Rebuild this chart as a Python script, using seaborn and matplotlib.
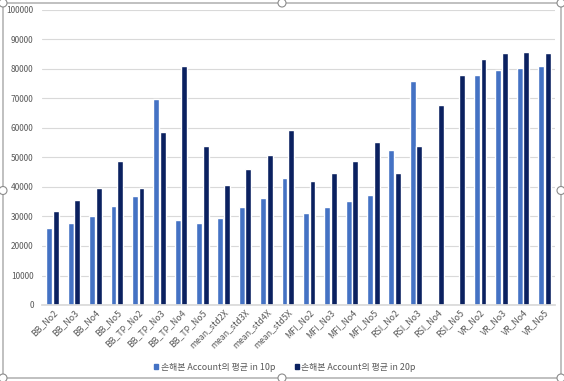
import matplotlib
matplotlib.use("Agg")
import matplotlib.pyplot as plt
import numpy as np
import pandas as pd
import seaborn as sns
from matplotlib.patches import FancyBboxPatch, Circle

categories = [
    "BB_No2", "BB_No3", "BB_No4", "BB_No5",
    "BB_TP_No2", "BB_TP_No3", "BB_TP_No4", "BB_TP_No5",
    "mean_std2X", "mean_std3X", "mean_std4X", "mean_std5X",
    "MFI_No2", "MFI_No3", "MFI_No4", "MFI_No5",
    "RSI_No2", "RSI_No3", "RSI_No4", "RSI_No5",
    "VR_No2", "VR_No3", "VR_No4", "VR_No5",
]
loss_10p = [
    26000, 27700, 30000, 33600,
    36800, 69800, 28700, 27700,
    29500, 33300, 36300, 42900,
    31200, 33100, 35400, 37200,
    52400, 75900, 0, 0,
    77900, 79700, 80200, 80900,
]
loss_20p = [
    32000, 35500, 39600, 48800,
    39600, 58700, 81000, 53900,
    40600, 46100, 50800, 59400,
    41900, 44600, 48900, 55300,
    44600, 54000, 67700, 77900,
    83300, 85300, 85800, 85500,
]
series_names = ["손해본 Account의 평균 in 10p", "손해본 Account의 평균 in 20p"]
palette = {series_names[0]: "#4472C4", series_names[1]: "#0B2160"}

df = pd.DataFrame({
    "category": categories * 2,
    "value": loss_10p + loss_20p,
    "series": [series_names[0]] * len(categories) + [series_names[1]] * len(categories),
})

sns.set_theme(style="white")
plt.rcParams["font.family"] = ["Noto Sans CJK KR", "DejaVu Sans"]

fig = plt.figure(figsize=(5.64, 3.81), dpi=100)
ax = fig.add_axes([42 / 564, 1 - 305 / 381, 513 / 564, 295 / 381])

sns.barplot(data=df, x="category", y="value", hue="series", palette=palette,
            width=0.62, gap=0.12, saturation=1, ax=ax, legend=False)

ax.set_ylim(0, 100000)
ax.set_yticks(np.arange(0, 100001, 10000))
ax.yaxis.grid(True, color="#D9D9D9", linewidth=0.8)
ax.set_axisbelow(True)
for side in ["top", "right", "left"]:
    ax.spines[side].set_visible(False)
ax.spines["bottom"].set_color("#D9D9D9")
ax.set_xlabel("")
ax.set_ylabel("")
ax.tick_params(axis="y", labelsize=6, colors="#595959", length=0, pad=6)
ax.tick_params(axis="x", labelsize=6.3, colors="#595959", length=0, pad=2)
plt.setp(ax.get_xticklabels(), rotation=45, ha="right", rotation_mode="anchor")

handles = [plt.Rectangle((0, 0), 1, 1, color=palette[s]) for s in series_names]
fig.legend(handles, series_names, loc="center", bbox_to_anchor=(0.505, 1 - 367 / 381),
           ncol=2, frameon=False, fontsize=6.4, handlelength=0.45, handleheight=0.45,
           handletextpad=0.3, columnspacing=2.2, labelcolor="#595959")

# chart frame with selection handles
fig.patches.append(FancyBboxPatch((3 / 564, 3 / 381), 558 / 564, 375 / 381,
                                  boxstyle="round,pad=0,rounding_size=0.008",
                                  transform=fig.transFigure, fill=False,
                                  edgecolor="#A6A6A6", linewidth=1))
for fx in (3 / 564, 0.5, 561 / 564):
    for fy in (3 / 381, 0.5, 378 / 381):
        if fx == 0.5 and fy == 0.5:
            continue
        fig.patches.append(Circle((fx * 564, fy * 381), 4, transform=None,
                                  facecolor="white", edgecolor="#8C8C8C", linewidth=0.8))

fig.savefig("out.png", dpi=100)
